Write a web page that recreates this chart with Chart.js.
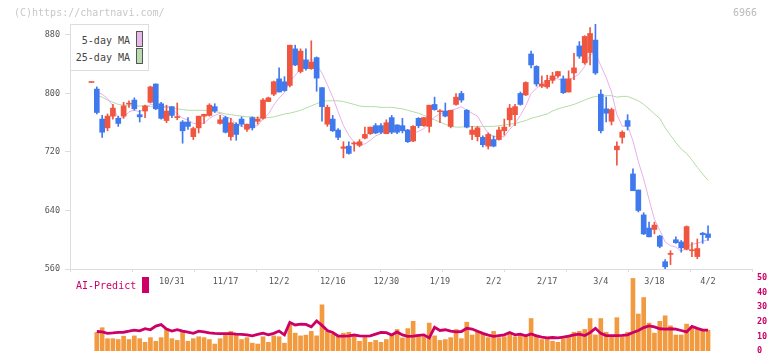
<!DOCTYPE html>
<html><head><meta charset="utf-8">
<script src="https://cdn.jsdelivr.net/npm/chart.js@4.4.1/dist/chart.umd.min.js"></script>
<style>
html,body{margin:0;padding:0;background:#fff;}
#wrap{position:relative;width:772px;height:361px;overflow:hidden;font-family:"DejaVu Sans Mono",monospace;}
canvas{position:absolute;left:0;top:0;}
.t{position:absolute;white-space:nowrap;line-height:1;}
</style></head><body>
<div id="wrap">
<canvas id="c1" width="772" height="361"></canvas>
<canvas id="c2" width="772" height="361"></canvas>
<div class="t" style="left:14px;top:8px;font-size:10px;color:#c8c8c8">(C)https://chartnavi.com/</div>
<div class="t" style="left:733px;top:8px;font-size:10px;color:#bbbbbb">6966</div>
<div style="position:absolute;left:70px;top:24px;width:79px;height:47px;box-sizing:border-box;border:1px solid #dddddd;background:#fff;"></div>
<div class="t" style="right:642px;top:36px;font-size:10px;color:#444">5-day MA</div>
<div style="position:absolute;left:136px;top:31px;width:7px;height:16px;box-sizing:border-box;border:1px solid #555;background:#e8b8ea;"></div>
<div class="t" style="right:642px;top:53px;font-size:10px;color:#444">25-day MA</div>
<div style="position:absolute;left:136px;top:48px;width:7px;height:16px;box-sizing:border-box;border:1px solid #555;background:#b8dcb0;"></div>
<div class="t" style="left:76px;top:281px;font-size:10px;color:#cc0066">AI-Predict</div>
<div style="position:absolute;left:142px;top:277px;width:7px;height:16px;background:#cc0066;"></div>
</div>
<script>
const tickIdx = [15,25,35,45,55,65,75,85,95,105,115];
const tickLabels = ['10/31','11/17','12/2','12/16','12/30','1/19','2/2','2/17','3/4','3/18','4/2'];
const yTicks = [560,640,720,800,880];
const volTicks = [0,10,20,30,40,50];

const open = [815,806,765,753,769,766,769,785.5,791,771,
776,788,813,786,763,782,767,761,761,741,
753,769,770,782,759,767,741,758,765,751,
767,762,766,789,799,820,816,811,861,830,
846,834,849,808,758,765,750,725,728,731,
729,739,745,756,756,745,767,757,756,750,
735,766,756,755,785,775,776,755,785,800,
777,744,741,740,728,737,737,749,764,771,
800,798,854,837,810,809,818,824,820,802,
828,865,842,856,873,799,779,762,723,740,
763,690,668,634,616,614,605,570,580,600,
597,587,585,577,609,608];
const high = [815,809,770,772,785,769,788,790,794,777,
784,810,813,788,784,782,787,763,767,754,
769,772,786,786,770,769,766,760,768,758,
768,768,793,795,817,835,823,866,866,861,
861,872,850,808,784,770,752,734,734,734,
737,754,754,759,759,764,770,757,766,751,
756,767,767,784,795,778,787,777,800,803,
778,755,755,742,746,742,754,765,785,785,
802,816,858,838,824,825,829,830,824,831,
855,871,879,890,895,805,795,780,734,749,
771,697,668,637,624,624,606,573,585,604,
599,619,596,601,610,619];
const low = [815,772,740,749,765,755,766,781,777,761,
767,787,778,765,760,767,764,732,751,737,
746,759,769,774,758,746,736,736,755,748,
750,758,765,789,797,802,803,809,838,828,
832,833,803,762,755,748,737,712,717,721,
727,738,744,745,745,745,745,745,746,733,
734,753,755,747,777,760,768,753,784,788,
753,737,735,727,724,727,736,743,755,756,
784,797,835,810,808,807,814,822,800,802,
819,848,840,839,826,746,761,757,702,732,
750,667,638,607,604,608,589,560,566,595,
583,586,577,574,595,599];
const close = [815,774,747,769,780,759,783,786.5,779,768,
783,809,779,766,776,770,768,749,755,752,
769,771.5,784,776,764,747,760,744,758,758,
753,765,791,794,816,802,804,866,839,858,
834,843,821,782,781,749,740,727,718,732,
734,744,754,746,747,760,747,747,749,734,
755,756,767,784,778,776,769,777,795,791,
754,750,753,730,744,728,750,754,780,782,
785,815,839,813,813,818,824,830,801,820,
835,851,878,882,828,749,773,778,728,747,
755,667,640,608,604,620,591,563,581,596,
589,618,586,588,607,603];
const ma5 = [null,802,799,793,783,766,767,775,777,775,
780,785,784,781,783,780,772,766,764,759,
759,759,766,770,773,768,766,758,755,753,
755,756,765,772,784,794,801,816,825,834,
840,848,839,828,812,795,775,756,743,733,
730,731,736,742,745,750,751,749,750,747,
746,748,752,759,768,772,775,777,779,782,
777,773,769,756,746,741,741,741,751,759,
770,783,800,807,813,820,821,820,817,819,
822,827,837,853,855,838,822,802,771,755,
756,735,707,683,655,628,613,597,592,590,
584,589,594,595,598,600];
const ma25 = [null,797,795,791,788,785,784,784,783,783,
783,782,782,781,781,780,779,778,777,777,
777,777,776,775,774,772,771,770,769,768,
768,767,767,767,768,770,772,773,775,777,
780,783,786,789,790,790,790,789,787,785,
783,782,782,782,781,781,781,780,779,777,
775,773,770,767,764,761,758,755,754,754,
755,755,755,755,755,755,756,757,758,759,
761,763,766,768,770,772,776,779,781,783,
785,788,791,794,796,796,797,797,795,796,
796,793,790,785,779,772,766,753,743,733,
724,718,709,699,690,681];
const volume = [null,12.6,15.9,8.4,8.4,7.8,10.1,7.8,10.3,8.4,
5.9,9.1,6.6,9.1,15.1,8.4,7.2,14.1,6.6,8.4,
9.7,9.1,7.8,4.7,8.4,10.7,13.4,10.8,7.8,9.1,
5.3,4.7,9.7,5.9,10.3,9.7,5.3,17.8,12.2,10.3,
10.8,13.4,10.3,31.6,13.4,11.6,9.7,12.2,12.8,9.7,
6.6,9.1,5.9,7.2,5.9,7.8,10.8,14.7,8.9,15.3,
20.3,10.9,9.7,19.1,10.3,7.2,7.8,9.1,14.7,8.4,
19.7,10.9,12.8,11.6,9.1,13.4,9.1,9.7,11.6,9.7,
10.9,9.7,22.2,10.9,7.8,8.4,6.6,5.9,8.4,9.7,
12.8,13.4,14.7,22.2,10.9,22.2,12.8,9.7,22.8,9.7,
12.8,49.7,25.3,36.6,19.1,12.2,20.3,24.1,17.2,10.9,
10.9,18.4,16.6,14.7,14.1,14.1];
const aiPredict = [null,13.3,13,12,12.3,12.7,12.8,13.5,14.3,13.8,
15.3,14.5,17,18,15,13.6,14.5,13.6,12.8,12,
13.5,13,12.3,12,11.8,11.8,11.8,11.5,11.4,11,
10.3,11.3,12.2,11,12,13.6,11,19.5,17.8,18.3,
18.2,16.5,20.5,17.5,14,12.6,10.2,10.1,10.3,10.9,
10.3,10.2,10.3,11.5,12.6,12.5,10.9,13,11,10,
10.2,10.7,11,8.9,16.2,14,14.5,13.5,13,13.3,
15.5,15,13.5,12,10.8,10,10.5,11,12.6,11,
11.5,10.3,11.6,10.3,9.5,8.9,9.2,8.9,9.5,10.1,
11,11.5,10.5,12.5,15.5,12,10.5,10.5,10.5,10.6,
11,12.6,14,16,17.2,16.5,15.2,15,15.2,15,
14,13,16.8,15.5,14.3,14.3];

const RED = '#f0553f', BLUE = '#4079ee';
const FONT = {family:'"DejaVu Sans Mono", monospace', size:8.5};
const idx = open.map((_, i) => i);
const candleColor = idx.map(i => close[i] >= open[i] ? RED : BLUE);
const XMIN = -4, XMAX = 123.2;

new Chart(document.getElementById('c1'), {
  type: 'bar',
  data: { datasets: [
    { type:'line', data: ma25.map((v,i)=>({x:i,y:v})), borderColor:'#b4dba8', borderWidth:1, pointRadius:0, tension:0, order:3 },
    { type:'line', data: ma5.map((v,i)=>({x:i,y:v})), borderColor:'#e8b0ea', borderWidth:1, pointRadius:0, tension:0, order:2 },
    { type:'bar', data: idx.map(i=>({x:i,y:[low[i],high[i]]})), backgroundColor:candleColor, barThickness:1, grouped:false, order:1 },
    { type:'bar', data: idx.map(i=>({x:i,y:[open[i],close[i]]})), backgroundColor:candleColor, barThickness:5, minBarLength:1, grouped:false, order:0 }
  ]},
  options: {
    responsive:false, animation:false, events:[],
    plugins:{ legend:{display:false}, tooltip:{enabled:false} },
    layout:{ padding:{ top:24, right:20, left:0, bottom:0 } },
    scales:{
      x:{ type:'linear', min:XMIN, max:XMAX, offset:false, position:'bottom', weight:1,
          grid:{display:false, drawTicks:false, offset:false}, border:{display:false},
          ticks:{ color:'#555', font:FONT, padding:4, maxRotation:0, autoSkip:false,
                  callback:(v)=>{ const k = tickIdx.indexOf(v); return k>=0 ? tickLabels[k] : ''; } },
          afterBuildTicks:(s)=>{ s.ticks = tickIdx.map(v=>({value:v})); },
          afterFit:(s)=>{ s.height = 88; } },
      x2:{ type:'linear', min:0, max:11, position:'bottom', weight:0, offset:false,
           ticks:{ display:false, stepSize:1 },
           grid:{ drawOnChartArea:false, tickLength:3, color:'#dddddd', offset:false },
           border:{ display:true, color:'#dddddd' },
           afterFit:(s)=>{ s.height = 4; } },
      y:{ min:560, max:895,
          afterBuildTicks:(s)=>{ s.ticks = yTicks.map(v=>({value:v})); },
          ticks:{ color:'#555', font:FONT, padding:5 },
          grid:{ drawOnChartArea:false, tickLength:5, color:'#dddddd' },
          border:{ color:'#dddddd' },
          afterFit:(s)=>{ s.width = 70; } }
    }
  }
});

new Chart(document.getElementById('c2'), {
  type: 'bar',
  data: { datasets: [
    { type:'line', data: aiPredict.map((v,i)=>({x:i,y:v})), borderColor:'#cc0066', borderWidth:2.8, pointRadius:0, tension:0, order:0 },
    { type:'bar', data: volume.map((v,i)=>({x:i,y:v})), backgroundColor:'#f29a40', barThickness:4, grouped:false, order:1 }
  ]},
  options: {
    responsive:false, animation:false, events:[],
    plugins:{ legend:{display:false}, tooltip:{enabled:false} },
    layout:{ padding:{ top:278, right:0, left:70, bottom:3 } },
    scales:{
      x:{ type:'linear', min:XMIN, max:XMAX, offset:false, display:false, grid:{offset:false} },
      y:{ position:'right', min:0, max:50,
          afterBuildTicks:(s)=>{ s.ticks = volTicks.map(v=>({value:v})); },
          ticks:{ color:'#cc0066', font:{family:'"DejaVu Sans Mono", monospace', size:8.5, weight:'bold'}, padding:5 },
          grid:{ display:false, drawTicks:false }, border:{ display:false },
          afterFit:(s)=>{ s.width = 20; } }
    }
  }
});
</script>
</body></html>
